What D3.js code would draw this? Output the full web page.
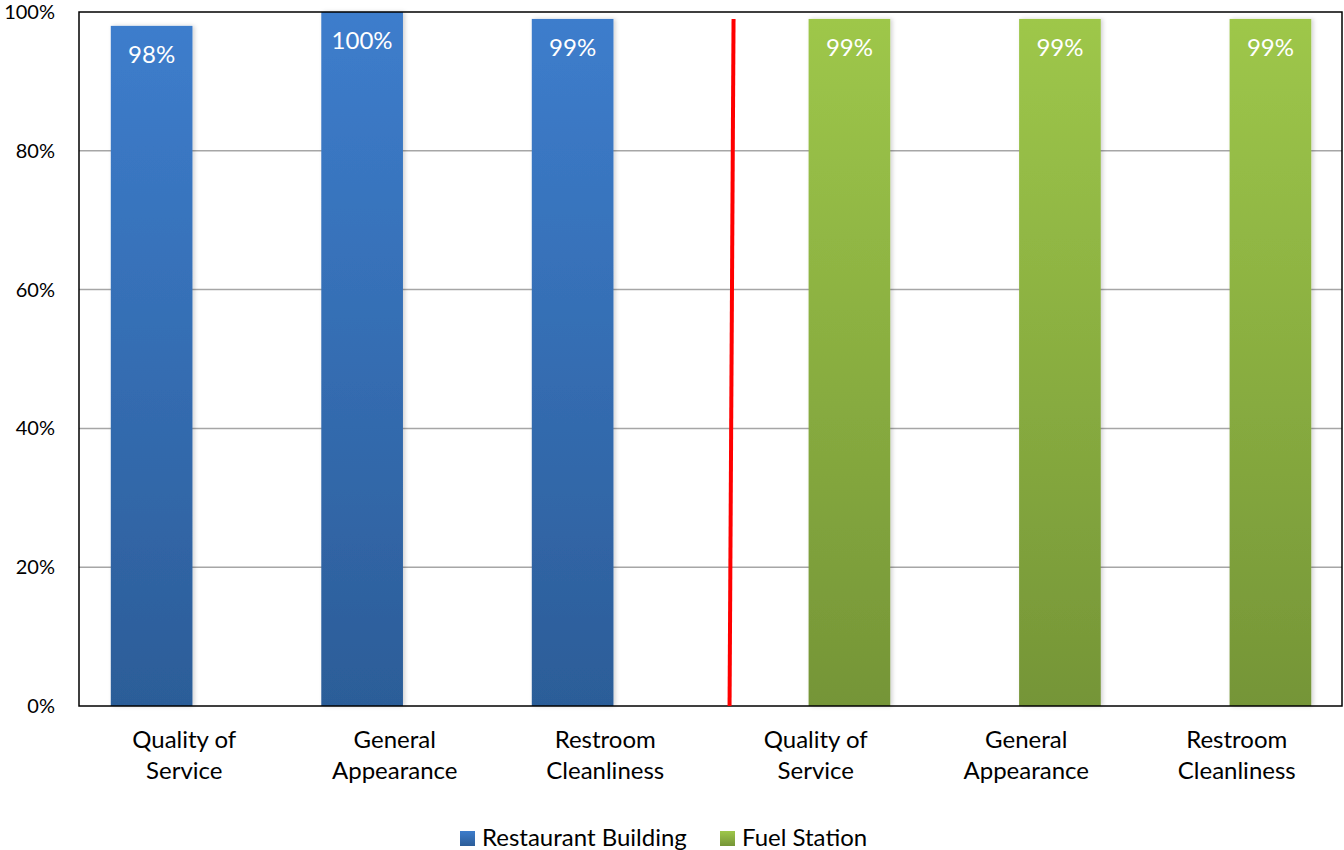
<!DOCTYPE html>
<html><head><meta charset="utf-8">
<script src="https://cdn.jsdelivr.net/npm/d3@7"></script>
<style>body{margin:0;background:#fff;} svg{display:block;font-family:Lato,"Open Sans",sans-serif;}</style>
</head><body>
<svg id="c" width="1344" height="850"></svg>
<script>
const categories = ["Quality of\nService","General\nAppearance","Restroom\nCleanliness","Quality of\nService","General\nAppearance","Restroom\nCleanliness"];
const seriesNames = ["Restaurant Building","Fuel Station"];
const restaurantValues = [0.98, 1.00, 0.99, null, null, null];
const fuelValues = [null, null, null, 0.99, 0.99, 0.99];
const yTicks = [0, 0.2, 0.4, 0.6, 0.8, 1.0];

const svg = d3.select("#c");
const L = 79, R = 1342, T = 12, B = 706;
const x = d3.scaleBand().domain(d3.range(categories.length)).range([L, R]).padding(0);
const y = d3.scaleLinear().domain([0, 1]).range([B, T]);
const bw = x.bandwidth();
const barW = bw * 0.388;
const off = { [seriesNames[0]]: -bw * 0.155, [seriesNames[1]]: bw * 0.160 };

const defs = svg.append("defs");
function grad(id, top, bot) {
  const g = defs.append("linearGradient").attr("id", id).attr("x1",0).attr("y1",0).attr("x2",0).attr("y2",1);
  g.append("stop").attr("offset","0%").attr("stop-color",top);
  g.append("stop").attr("offset","100%").attr("stop-color",bot);
}
grad("gBlue", "#3d7dcc", "#2c5d98");
grad("gGreen", "#9ec74a", "#759537");
const f = defs.append("filter").attr("id","sh").attr("x","-20%").attr("y","-5%").attr("width","140%").attr("height","110%");
f.append("feDropShadow").attr("dx",2).attr("dy",0).attr("stdDeviation",2).attr("flood-color","#000").attr("flood-opacity",0.18);

// gridlines
svg.append("g").selectAll("line").data(yTicks.filter(d => d > 0 && d < 1)).join("line")
  .attr("x1", L).attr("x2", R).attr("y1", d => y(d)).attr("y2", d => y(d))
  .attr("stroke", "#a6a6a6").attr("stroke-width", 1.5);

// y axis labels
const yAxis = d3.axisLeft(y).tickValues(yTicks).tickFormat(d3.format(".0%")).tickSize(0).tickPadding(24);
const ya = svg.append("g").attr("transform", `translate(${L},0)`).call(yAxis);
ya.select(".domain").remove();
ya.selectAll("text").attr("font-size", 20).attr("fill", "#000").attr("font-family", "Lato,sans-serif");

// bars
const series = [
  { name: seriesNames[0], values: restaurantValues, fill: "url(#gBlue)" },
  { name: seriesNames[1], values: fuelValues, fill: "url(#gGreen)" }
];
series.forEach(s => {
  const data = s.values.map((v, i) => ({ i, v })).filter(d => d.v != null);
  const g = svg.append("g");
  g.selectAll("rect").data(data).join("rect")
    .attr("x", d => x(d.i) + bw / 2 + off[s.name] - barW / 2)
    .attr("width", barW)
    .attr("y", d => y(d.v))
    .attr("height", d => y(0) - y(d.v))
    .attr("fill", s.fill).attr("filter", "url(#sh)");
  g.selectAll("text").data(data).join("text")
    .attr("x", d => x(d.i) + bw / 2 + off[s.name])
    .attr("y", d => y(d.v) + 37)
    .attr("text-anchor", "middle").attr("font-size", 24).attr("fill", "#fff")
    .text(d => d3.format(".0%")(d.v));
});

// plot border
svg.append("rect").attr("x", L).attr("y", T).attr("width", R - L).attr("height", B - T)
  .attr("fill", "none").attr("stroke", "#000").attr("stroke-width", 1.5);

// red divider line
const divX = x(3) + bw * 0.1;
svg.append("line").attr("x1", divX + 2).attr("y1", y(0.99)).attr("x2", divX - 2).attr("y2", y(0))
  .attr("stroke", "#ff0000").attr("stroke-width", 4);

// x labels
const xl = svg.append("g");
categories.forEach((c, i) => {
  const t = xl.append("text").attr("text-anchor", "middle").attr("font-size", 24).attr("fill", "#000");
  c.split("\n").forEach((line, k) => {
    t.append("tspan").attr("x", x(i) + bw / 2).attr("y", 748 + k * 31).text(line);
  });
});

// legend
const leg = svg.append("g");
const legItems = [
  { name: seriesNames[0], fill: "url(#gBlue)", x: 460 },
  { name: seriesNames[1], fill: "url(#gGreen)", x: 720 }
];
legItems.forEach(d => {
  leg.append("rect").attr("x", d.x).attr("y", 831).attr("width", 15).attr("height", 15).attr("fill", d.fill);
  leg.append("text").attr("x", d.x + 22).attr("y", 846).attr("font-size", 24).attr("fill", "#000").text(d.name);
});
</script>
</body></html>
